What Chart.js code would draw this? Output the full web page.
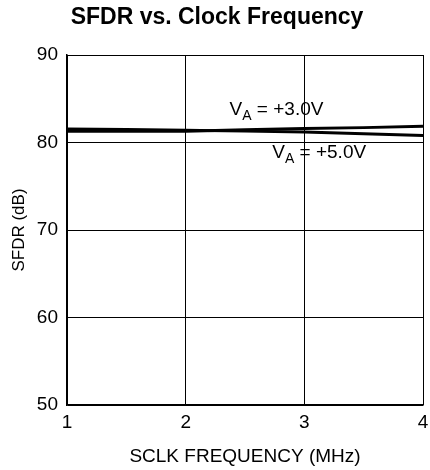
<!DOCTYPE html>
<html>
<head>
<meta charset="utf-8">
<script src="https://cdn.jsdelivr.net/npm/chart.js@4.4.0/dist/chart.umd.min.js"></script>
<style>
  body { margin: 0; background: #fff; }
  canvas { display: block; }
</style>
</head>
<body>
<canvas id="grafico" width="430" height="470"></canvas>
<script>
// dados
const frequencias = [1, 1.5, 2, 2.5, 3, 3.5, 4];
const sfdr3v = [81.3, 81.3, 81.3, 81.45, 81.6, 81.7, 81.85];
const sfdr5v = [81.55, 81.5, 81.4, 81.3, 81.2, 81.0, 80.8];
const ticksX = [1, 2, 3, 4];
const ticksY = [50, 60, 70, 80, 90];

// rotulos das curvas: [x, y] em unidades do grafico
const rotulo3v = { x: 2.37, y: 83.1, texto: ' = +3.0V' };
const rotulo5v = { x: 2.73, y: 78.25, texto: ' = +5.0V' };

const fonte = 'Liberation Sans, Arial, Helvetica, sans-serif';

const pontos = (ys) => frequencias.map((f, i) => ({ x: f, y: ys[i] }));

const extras = {
  id: 'extras',
  afterDraw(chart) {
    const ctx = chart.ctx;
    const sx = chart.scales.x, sy = chart.scales.y;
    ctx.save();
    ctx.fillStyle = '#000';
    // titulo
    ctx.font = 'bold 23px ' + fonte;
    ctx.textAlign = 'center';
    ctx.textBaseline = 'middle';
    ctx.fillText('SFDR vs. Clock Frequency', 217, 18);
    // rotulos V_A
    ctx.textAlign = 'left';
    ctx.textBaseline = 'alphabetic';
    [rotulo3v, rotulo5v].forEach(r => {
      let px = sx.getPixelForValue(r.x);
      const py = sy.getPixelForValue(r.y);
      ctx.font = '19px ' + fonte;
      ctx.fillText('V', px, py);
      px += ctx.measureText('V').width;
      ctx.font = '14px ' + fonte;
      ctx.fillText('A', px, py + 5);
      px += ctx.measureText('A').width;
      ctx.font = '19px ' + fonte;
      ctx.fillText(r.texto, px, py);
    });
    ctx.restore();
  }
};

const ctx = document.getElementById('grafico').getContext('2d');
new Chart(ctx, {
  type: 'line',
  data: {
    datasets: [
      { label: 'VA = +3.0V', data: pontos(sfdr3v), borderColor: '#000', borderWidth: 3, pointRadius: 0, tension: 0, fill: false },
      { label: 'VA = +5.0V', data: pontos(sfdr5v), borderColor: '#000', borderWidth: 3, pointRadius: 0, tension: 0, fill: false }
    ]
  },
  options: {
    responsive: false,
    animation: false,
    devicePixelRatio: 1,
    layout: { padding: { top: 55, right: 7, left: 0, bottom: 0 } },
    plugins: { legend: { display: false }, tooltip: { enabled: false } },
    scales: {
      x: {
        type: 'linear',
        min: 1, max: 4,
        afterBuildTicks: (s) => { s.ticks = ticksX.map(v => ({ value: v })); },
        afterFit: (s) => { s.height = 65; s.paddingLeft = 0; s.paddingRight = 0; },
        ticks: { color: '#000', font: { size: 19, family: fonte }, padding: 6, maxRotation: 0 },
        grid: { color: '#000', lineWidth: 1, drawTicks: false },
        border: { color: '#000', width: 1.5 },
        title: { display: true, text: 'SCLK FREQUENCY (MHz)', color: '#000', font: { size: 19, family: fonte }, padding: { top: 0, bottom: 2 } }
      },
      y: {
        min: 50, max: 90,
        afterBuildTicks: (s) => { s.ticks = ticksY.map(v => ({ value: v })); },
        afterFit: (s) => { s.width = 67; s.paddingTop = 0; s.paddingBottom = 0; },
        ticks: { color: '#000', font: { size: 19, family: fonte }, padding: 9 },
        grid: { color: '#000', lineWidth: 1, drawTicks: false },
        border: { color: '#000', width: 1.5 },
        title: { display: true, text: 'SFDR (dB)', color: '#000', font: { size: 17, family: fonte }, padding: { top: 9, bottom: 0 } }
      }
    }
  },
  plugins: [extras]
});
</script>
</body>
</html>
